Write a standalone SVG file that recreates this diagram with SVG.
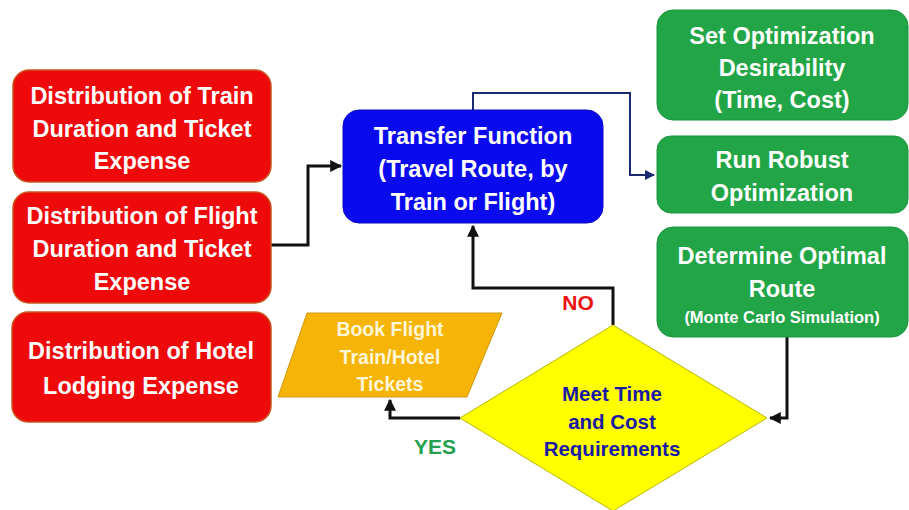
<svg xmlns="http://www.w3.org/2000/svg" width="909" height="510" viewBox="0 0 909 510">
<defs>
<style>
.t{font-family:"Liberation Sans",Arial,sans-serif;font-weight:bold;text-anchor:middle}
.w{fill:#ffffff;font-size:23.5px}
.red{fill:#ee0a0a;stroke:#c8561e;stroke-width:1.5}
.grn{fill:#21a546;stroke:#1d9440;stroke-width:1}
.blu{fill:#0a0aee;stroke:#0a0ac0;stroke-width:1}
.c{fill:none;stroke:#111111;stroke-width:3}
.cn{fill:none;stroke:#1a2a70;stroke-width:2}
</style>
<marker id="ab" viewBox="0 0 10 10" refX="9" refY="5" markerWidth="4" markerHeight="4" orient="auto"><path d="M0,0L10,5L0,10z" fill="#111111"/></marker>
<marker id="an" viewBox="0 0 10 10" refX="9" refY="5" markerWidth="5" markerHeight="5" orient="auto"><path d="M0,0L10,5L0,10z" fill="#1a2a70"/></marker>
</defs>
<rect width="909" height="510" fill="#ffffff"/>
<g id="connectors">
<path class="c" d="M271,245H308V166H341" marker-end="url(#ab)"/>
<path class="cn" d="M473,110V93H630V175H654" marker-end="url(#an)"/>
<path class="c" d="M613,325V288H473V226" marker-end="url(#ab)"/>
<path class="c" d="M460,418H390V400" marker-end="url(#ab)"/>
<path class="c" d="M787,337V418H770" marker-end="url(#ab)"/>
</g>
<g id="red1"><rect class="red" x="13" y="70" width="258" height="112" rx="16"/>
<text class="t w"><tspan x="142" y="104">Distribution of Train</tspan><tspan x="142" y="137">Duration and Ticket</tspan><tspan x="142" y="169">Expense</tspan></text></g>
<g id="red2"><rect class="red" x="13" y="192" width="258" height="111" rx="16"/>
<text class="t w"><tspan x="142" y="224">Distribution of Flight</tspan><tspan x="142" y="257">Duration and Ticket</tspan><tspan x="142" y="290">Expense</tspan></text></g>
<g id="red3"><rect class="red" x="12" y="312" width="259" height="110" rx="16"/>
<text class="t w"><tspan x="141" y="359">Distribution of Hotel</tspan><tspan x="141" y="394">Lodging Expense</tspan></text></g>
<g id="transfer"><rect class="blu" x="343" y="110" width="260" height="113" rx="16"/>
<text class="t w"><tspan x="473" y="144">Transfer Function</tspan><tspan x="473" y="177">(Travel Route, by</tspan><tspan x="473" y="210">Train or Flight)</tspan></text></g>
<g id="green1"><rect class="grn" x="657" y="10" width="251" height="110" rx="16"/>
<text class="t w"><tspan x="782" y="44">Set Optimization</tspan><tspan x="782" y="76">Desirability</tspan><tspan x="782" y="108">(Time, Cost)</tspan></text></g>
<g id="green2"><rect class="grn" x="657" y="136" width="251" height="77" rx="14"/>
<text class="t w"><tspan x="782" y="168">Run Robust</tspan><tspan x="782" y="201">Optimization</tspan></text></g>
<g id="green3"><rect class="grn" x="657" y="227" width="251" height="110" rx="16"/>
<text class="t w"><tspan x="782" y="264">Determine Optimal</tspan><tspan x="782" y="297">Route</tspan></text>
<text class="t" x="782" y="323" fill="#ffffff" font-size="16.5">(Monte Carlo Simulation)</text></g>
<g id="book"><polygon points="307,313 502,313 467,397 278,397" fill="#f5b406" stroke="#d09a10" stroke-width="1"/>
<text class="t" fill="#fff6d8" font-size="19.5"><tspan x="390" y="336">Book Flight</tspan><tspan x="390" y="364">Train/Hotel</tspan><tspan x="390" y="391">Tickets</tspan></text></g>
<g id="decision"><polygon points="613,325 767,418 613,511 460,418" fill="#ffff00" stroke="#b8b800" stroke-width="1"/>
<text class="t" fill="#1a1aa6" font-size="20.5"><tspan x="612" y="401">Meet Time</tspan><tspan x="612" y="429">and Cost</tspan><tspan x="612" y="456">Requirements</tspan></text></g>
<text class="t" x="578" y="310" fill="#ee1111" font-size="21">NO</text>
<text class="t" x="435" y="454" fill="#22a050" font-size="21">YES</text>
</svg>
